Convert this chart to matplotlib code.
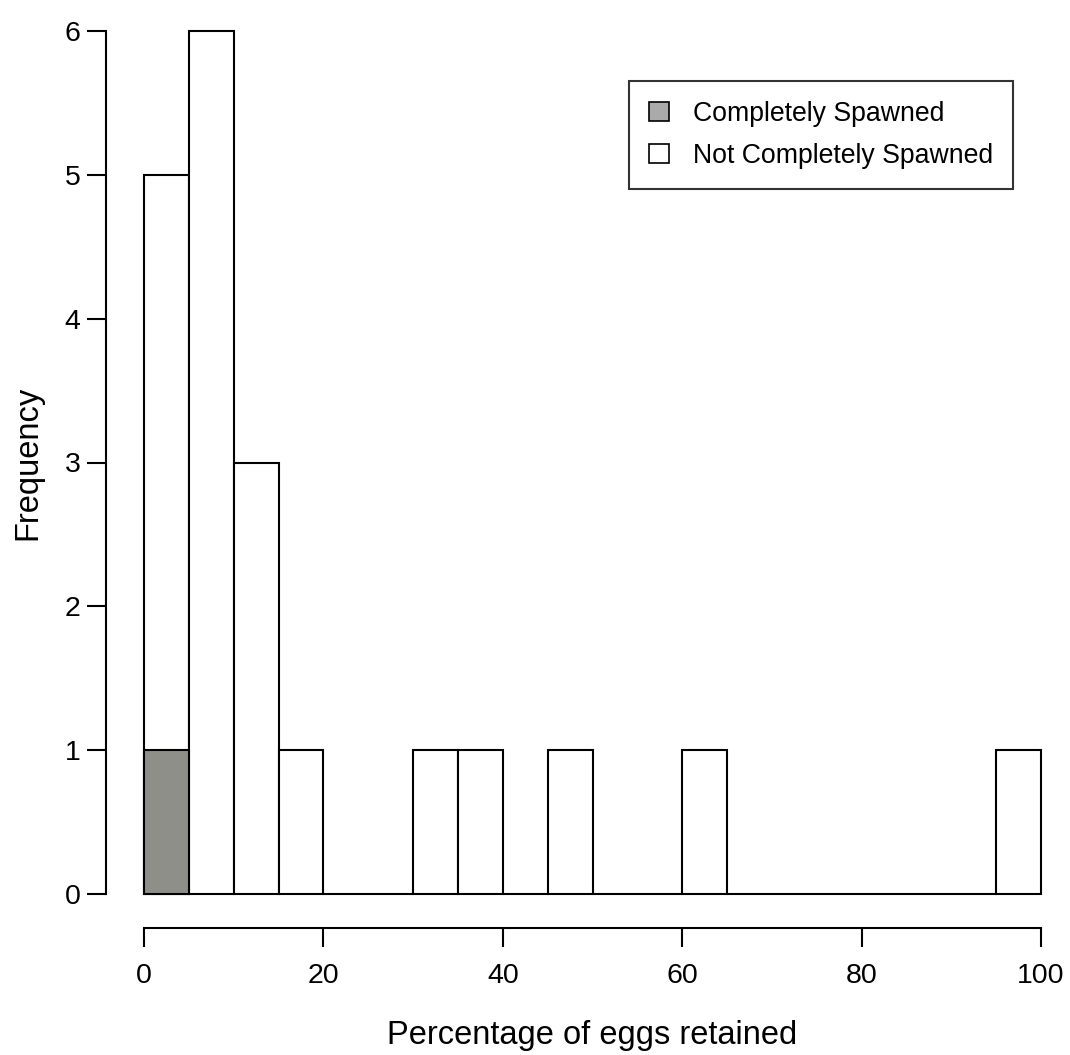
import numpy as np
import matplotlib.pyplot as plt
from matplotlib.patches import Patch

plt.rcParams['font.family'] = ['Liberation Sans', 'DejaVu Sans']

# histogram of percentage of eggs retained, 5% bins
bin_width = 5
bin_starts = np.arange(0, 100, bin_width)
counts_not_complete = [5, 6, 3, 1, 0, 0, 1, 1, 0, 1, 0, 0, 1, 0, 0, 0, 0, 0, 0, 1]
counts_complete = [1, 0, 0, 0, 0, 0, 0, 0, 0, 0, 0, 0, 0, 0, 0, 0, 0, 0, 0, 0]

x_ticks = [0, 20, 40, 60, 80, 100]
y_ticks = [0, 1, 2, 3, 4, 5, 6]

grey_bar = '#8e8f88'
grey_legend = '#aaaaaa'

W, H = 1070, 1055
fig = plt.figure(figsize=(W / 100, H / 100), dpi=100)
ax = fig.add_axes([144 / W, 1 - 894 / H, (1041 - 144) / W, (894 - 31) / H])

ax.bar(bin_starts, counts_not_complete, width=bin_width, align='edge',
       color='white', edgecolor='black', linewidth=1.5, clip_on=False, zorder=2)
mask = np.array(counts_complete) > 0
ax.bar(bin_starts[mask], np.array(counts_complete)[mask], width=bin_width, align='edge',
       color=grey_bar, edgecolor='black', linewidth=1.5, clip_on=False, zorder=3)

ax.set_xlim(0, 100)
ax.set_ylim(0, 6)

# R-style detached axes
for side in ['top', 'right']:
    ax.spines[side].set_visible(False)
ax.spines['left'].set_position(('outward', 38 * 0.72))
ax.spines['bottom'].set_position(('outward', 34 * 0.72))
ax.spines['left'].set_bounds(0, 6)
ax.spines['bottom'].set_bounds(0, 100)
for side in ['left', 'bottom']:
    ax.spines[side].set_linewidth(1.5)

ax.set_xticks(x_ticks)
ax.set_yticks(y_ticks)
ax.tick_params(axis='both', length=13.5, width=1.5, labelsize=20.5)
ax.tick_params(axis='y', pad=5)
ax.tick_params(axis='x', pad=12)

ax.set_xlabel('Percentage of eggs retained', fontsize=23.5, labelpad=22)
ax.set_ylabel('Frequency', fontsize=23.5, labelpad=15)

handles = [Patch(facecolor=grey_legend, edgecolor='black', linewidth=1.2),
           Patch(facecolor='white', edgecolor='black', linewidth=1.2)]
leg = ax.legend(handles, ['Completely Spawned', 'Not Completely Spawned'],
                loc='upper right', bbox_to_anchor=(1013 / W, 1 - 81 / H),
                bbox_transform=fig.transFigure, fontsize=19.2, frameon=True,
                fancybox=False, framealpha=1, edgecolor='#333333',
                handlelength=0.75, handleheight=0.75, handletextpad=0.9,
                borderpad=0.75, labelspacing=0.6, borderaxespad=0)
leg.get_frame().set_linewidth(1.5)

fig.savefig('out.png', dpi=100)
